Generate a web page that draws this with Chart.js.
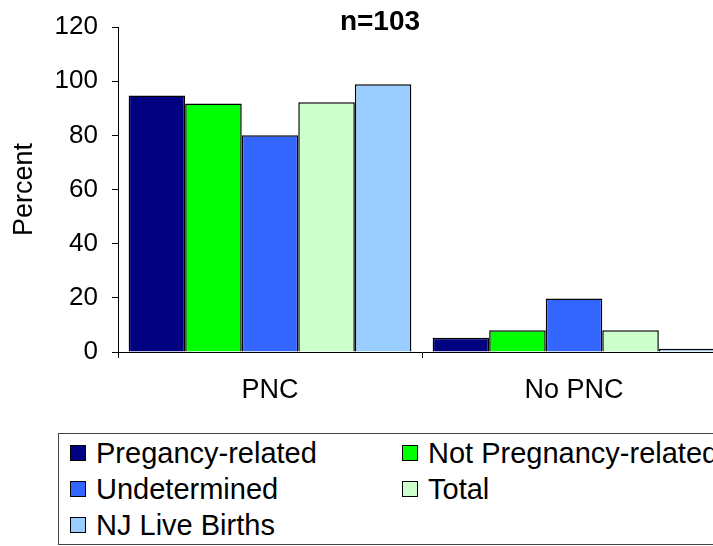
<!DOCTYPE html>
<html>
<head>
<meta charset="utf-8">
<script src="https://cdn.jsdelivr.net/npm/chart.js@4"></script>
<style>
  html, body { margin: 0; padding: 0; background: #fff; overflow: hidden; }
  body { width: 713px; height: 546px; position: relative; font-family: "Liberation Sans", Arial, sans-serif; }
  #chart { position: absolute; left: 0; top: 0; }
  #legend {
    position: absolute; left: 58px; top: 433px; width: 700px; height: 112px;
    border: 1.5px solid #444; box-sizing: border-box;
    display: grid; grid-template-columns: 332px 340px; grid-auto-rows: 36px;
    padding: 0 0 0 11px; align-content: center;
    font-size: 29px; color: #000;
  }
  .item { display: flex; align-items: center; white-space: nowrap; }
  .sw { width: 14px; height: 14px; border: 1.5px solid #000; margin-right: 10px; flex: none; }
</style>
</head>
<body>
<canvas id="chart" width="730" height="420"></canvas>
<div id="legend"></div>
<script>
const categories = ["PNC", "No PNC"];
const seriesNames = ["Pregancy-related", "Not Pregnancy-related", "Undetermined", "Total", "NJ Live Births"];
const pregnancyRelated = [94.7, 5.3];
const notPregnancyRelated = [91.8, 8.0];
const undetermined = [80.0, 19.8];
const total = [92.2, 8.0];
const njLiveBirths = [98.9, 1.2];
const seriesColors = ["#000080", "#00ff00", "#3366ff", "#ccffcc", "#99ccff"];
const yTicks = [0, 20, 40, 60, 80, 100, 120];
const titleText = "n=103";

const seriesValues = [pregnancyRelated, notPregnancyRelated, undetermined, total, njLiveBirths];

// chart heading sits inside the top margin, over the 120 line
const titlePlugin = {
  id: "topTitle",
  afterDraw(chart) {
    const ctx = chart.ctx;
    ctx.save();
    ctx.font = "bold 28px 'Liberation Sans', Arial, sans-serif";
    ctx.fillStyle = "#000";
    ctx.textAlign = "center";
    ctx.textBaseline = "middle";
    ctx.fillText(titleText, chart.chartArea.left + 262, 22);
    ctx.restore();
  }
};

const fam = "'Liberation Sans', Arial, sans-serif";

new Chart(document.getElementById("chart"), {
  type: "bar",
  data: {
    labels: categories,
    datasets: seriesNames.map((name, i) => ({
      label: name,
      data: seriesValues[i],
      backgroundColor: seriesColors[i],
      borderColor: "#000",
      borderWidth: 1.5,
      categoryPercentage: 0.93,
      barPercentage: 1.0
    }))
  },
  options: {
    responsive: false,
    animation: false,
    layout: { padding: { top: 21, right: 4, left: 0, bottom: 0 } },
    plugins: {
      legend: { display: false },
      tooltip: { enabled: false }
    },
    scales: {
      x: {
        grid: { drawOnChartArea: false, color: "#000", tickLength: 6, lineWidth: 1 },
        border: { color: "#000", width: 1 },
        ticks: { color: "#000", font: { family: fam, size: 27 }, padding: 16 },
        afterFit: s => { s.height = 68; }
      },
      y: {
        min: 0,
        max: 120,
        afterBuildTicks: s => { s.ticks = yTicks.map(v => ({ value: v })); },
        grid: { drawOnChartArea: false, color: "#000", tickLength: 6, lineWidth: 1 },
        border: { color: "#000", width: 1 },
        ticks: { color: "#000", font: { family: fam, size: 26, lineHeight: 1 }, padding: 14 },
        title: { display: true, text: "Percent", color: "#000", font: { family: fam, size: 27 }, padding: { top: 8, bottom: 0 } },
        afterFit: s => { s.width = 118; }
      }
    }
  },
  plugins: [titlePlugin]
});

const legend = document.getElementById("legend");
seriesNames.forEach((name, i) => {
  const item = document.createElement("div");
  item.className = "item";
  const sw = document.createElement("span");
  sw.className = "sw";
  sw.style.background = seriesColors[i];
  const label = document.createElement("span");
  label.textContent = name;
  item.appendChild(sw);
  item.appendChild(label);
  legend.appendChild(item);
});
</script>
</body>
</html>
